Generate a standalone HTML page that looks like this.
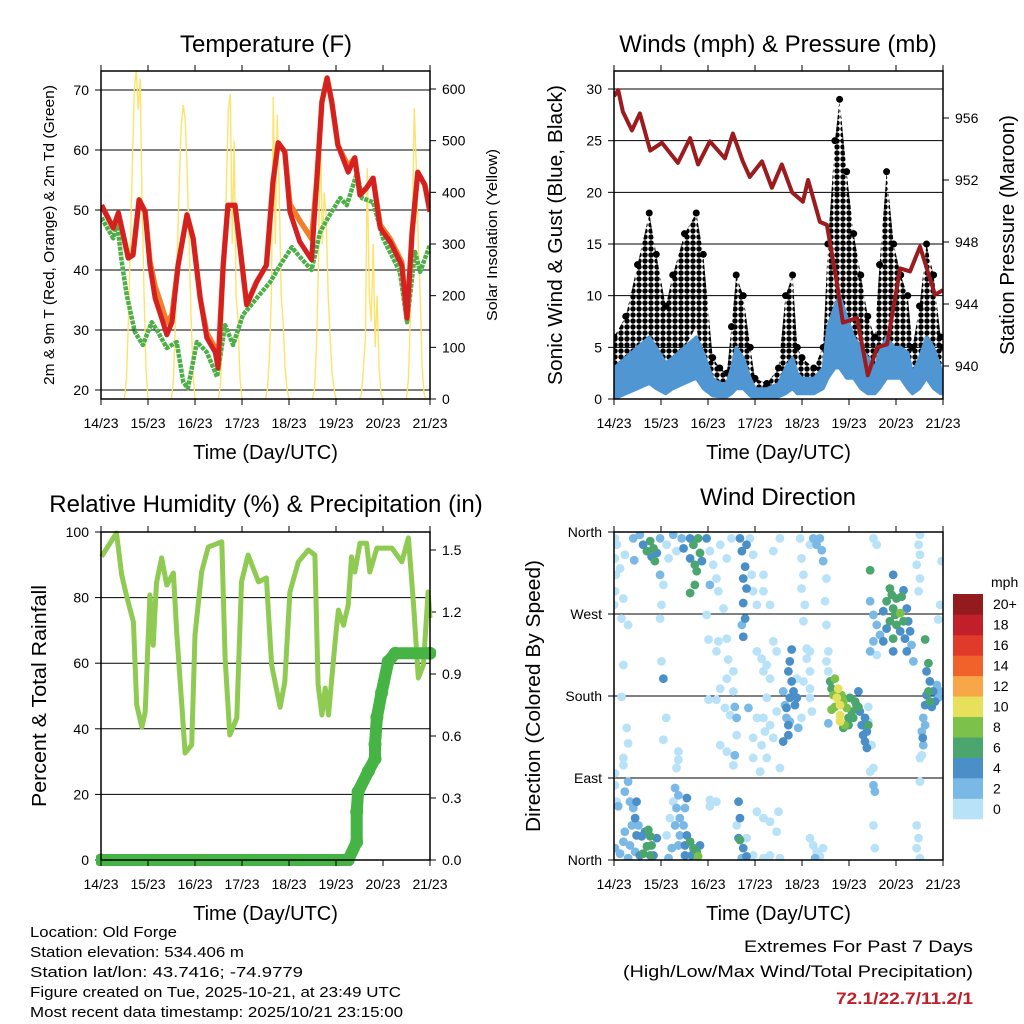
<!DOCTYPE html>
<html><head><meta charset="utf-8"><style>
html,body{margin:0;padding:0;background:#fff;}
svg{display:block;font-family:"Liberation Sans",Arial,sans-serif;}
</style></head><body>
<svg id="fig" width="1024" height="1024" viewBox="0 0 1024 1024" xmlns="http://www.w3.org/2000/svg">
<defs>
<clipPath id="c1"><rect x="101" y="71" width="329" height="328"/></clipPath>
<clipPath id="c2"><rect x="614" y="71" width="329" height="328"/></clipPath>
<clipPath id="c3"><rect x="96" y="526" width="340" height="340"/></clipPath>
<clipPath id="c4"><rect x="614" y="532" width="329" height="328"/></clipPath>
<pattern id="dots" width="6" height="6" patternUnits="userSpaceOnUse">
<circle cx="3" cy="3" r="2.7" fill="#000"/>
</pattern>
</defs>
<g id="layer"></g>
</svg>
<script>
// ---------- DATA ----------
const dayLabels = ["14/23","15/23","16/23","17/23","18/23","19/23","20/23","21/23"];
// Temperature panel
const tempT = [0.01,0.26,0.37,0.58,0.68,0.81,0.94,1.04,1.15,1.29,1.40,1.51,1.64,1.83,1.96,2.11,2.25,2.43,2.49,2.60,2.70,2.85,2.96,3.10,3.31,3.52,3.66,3.77,3.91,4.02,4.23,4.48,4.59,4.70,4.81,4.91,5.04,5.26,5.40,5.51,5.65,5.79,5.94,6.15,6.40,6.51,6.62,6.74,6.89,7.0];
const temp2m = [50.8,47,49.5,42,42.5,51.7,49.7,40.8,35.3,32,29.2,31.3,40.8,49.2,45.3,35.3,28.7,26.3,23.7,40.8,50.8,50.8,43.7,34.2,38,40.8,54.7,61.2,59.7,49.7,44.7,41.7,54.7,68,72,68,60.8,56.3,58.7,52.5,53.7,55.3,47,44.7,40.8,32,46.3,56.3,54.2,49.7];
const temp9m = [50.8,47,49.5,42,42.5,51.7,49.7,41.5,37.3,34,31.2,32.5,40.8,49.2,45.3,35.3,29.5,27,24.3,40.8,50.8,50.8,43.7,34.2,38,40.8,54.7,61.2,59.7,51,48.2,45.2,54.7,68,72,68,60.8,57.3,58.7,52.5,53.7,55.3,47.5,45.2,41.3,32,46.3,56.3,54.2,49.7];
const dewT = [0.01,0.26,0.34,0.45,0.55,0.72,0.89,1.08,1.21,1.40,1.61,1.75,1.85,2.04,2.25,2.47,2.64,2.81,3.02,3.31,3.60,3.81,4.06,4.23,4.48,4.66,4.83,5.09,5.23,5.45,5.55,5.79,6.00,6.36,6.51,6.68,6.79,7.0];
const dewV = [48.7,45.3,48,40.8,35.8,29.7,27.5,31.3,29.7,27,28,21.3,20.3,28,26.3,22.2,30.8,27.5,32.5,35.3,38,40.8,43.8,42.2,40,46.3,48.7,52,50.8,56.3,52,51.3,45.3,39.7,31.3,43,39.7,44.2];
// hourly solar insolation after sunrise (~11 UTC) for each day
const solarDays = [
 [0,40,150,300,450,600,640,560,620,380,200,60,0],
 [0,40,150,290,420,530,569,540,440,300,160,50,0],
 [0,30,120,250,400,560,590,300,500,200,150,40,0],
 [0,20,80,200,585,300,550,400,200,150,60,20,0],
 [0,20,100,250,530,300,400,350,200,120,50,20,0],
 [0,10,60,120,447,200,150,300,100,200,60,10,0],
 [0,40,160,350,563,450,300,200,60,10,0,0,0]
];
// Wind panel
const windT = [0,0.25,0.5,0.75,0.9,1.1,1.25,1.5,1.75,1.9,2.1,2.25,2.4,2.5,2.6,2.75,2.9,3.0,3.25,3.5,3.65,3.8,3.9,4.0,4.25,4.45,4.55,4.7,4.8,4.95,5.1,5.25,5.4,5.55,5.65,5.8,5.95,6.1,6.25,6.35,6.5,6.65,6.8,6.95,7.0];
const gustHi = [6,8,13,18,14,9,12,16,18,14,4,3,2.5,7,12,10,5,2,1.5,3,10,12,5,4,3,5,15,25,29,22,16,12,8,6,13,22,15,12,10,5,9,15,12,6,5];
const gustLo = [1,2,4,6,3,2,3,5,7,3,1,1,1,2,3,3,1,0.5,0.5,1,2,3,1,1,1,2,5,7,10,8,5,3,2,2,4,6,4,3,2,1,3,4,2,1,1];
const windHi = [3,4,5,6,5,3.5,4,5,6,4.5,2,1.5,1.5,3,5,4,2,1,1,1.5,3,4,2.5,2,2,3,7,9,10,8,6,5,4,3,4.5,6,5,5,4.5,2.5,4,6,5,3,2.5];
const windLo = [0,0.5,1,1.5,1,0.5,1,1.5,2,1,0.3,0.2,0.2,0.5,1,1,0.3,0,0,0.2,0.5,1,0.5,0.5,0.5,1,2,3,3,2,2,1,0.5,0.5,1,2,2,2,1,0.5,1,2,1,0.5,0.5];
const presT = [0,0.09,0.19,0.38,0.55,0.77,1.02,1.36,1.62,1.79,2.04,2.36,2.53,2.74,2.89,3.15,3.36,3.57,3.79,4.02,4.13,4.38,4.53,4.74,4.87,5.17,5.40,5.60,5.81,6.09,6.30,6.51,6.83,7.0];
const presV = [957.4,957.8,956.4,955.2,956.3,953.9,954.4,953.1,954.7,953,954.5,953.4,955,953.2,952.2,953.2,951.5,953,951.2,950.6,952,949.3,949.1,945.4,942.8,943.1,939.4,941.2,941.4,946.3,946.1,947.7,944.6,944.9];
// RH / precip panel
const rhT = [0.01,0.33,0.44,0.55,0.69,0.76,0.87,0.94,1.04,1.11,1.18,1.29,1.40,1.54,1.61,1.72,1.79,1.93,2.0,2.14,2.28,2.57,2.64,2.74,2.89,2.99,3.13,3.35,3.52,3.63,3.81,3.91,4.02,4.20,4.41,4.55,4.62,4.70,4.77,4.84,4.98,5.05,5.16,5.26,5.33,5.40,5.51,5.65,5.72,5.87,6.19,6.40,6.54,6.65,6.75,6.86,6.96,7.0];
const rhV = [92.5,99.7,86.9,80.2,72.6,47.3,40.5,45.1,80.8,65.5,84.5,92.1,83.8,87.5,69.5,47.3,32.6,35.1,68.6,87.8,95.4,97,61.6,38.1,43.3,84.8,93,84.8,86,59.5,46.6,54.3,81.7,90.9,94.5,93,53.4,44.2,52.4,44.2,66.5,76.2,71.6,77.7,92.4,87.8,96.6,96.6,87.8,95.1,95.1,90.9,98.2,77.7,55.5,59.5,81.7,73.8];
const rainT = [0,5.26,5.44,5.44,5.47,5.69,5.83,5.83,5.87,5.97,6.11,6.26,7.0];
const rainV = [0,0,0.087,0.233,0.33,0.43,0.49,0.56,0.69,0.81,0.96,1.0,1.0];
// Wind direction panel (day offset, degrees, mph)
const dirDay = [0.02,0.06,0.02,0.04,0.02,0.00,0.20,0.16,0.30,0.13,0.23,0.41,0.43,0.55,0.62,0.70,0.77,0.84,0.87,0.91,0.80,0.98,0.98,1.05,1.01,0.98,1.12,1.16,1.26,1.33,1.44,1.48,1.62,1.69,1.79,1.83,1.72,1.87,1.76,1.62,1.72,1.62,1.97,2.04,2.11,2.18,2.22,2.04,2.26,2.40,2.33,1.97,2.50,2.68,2.72,2.82,2.79,2.75,2.82,2.75,2.79,2.72,2.75,2.89,2.96,2.93,2.96,3.04,3.18,3.32,3.39,3.53,3.18,3.96,3.99,4.03,3.99,4.06,4.03,4.24,4.31,4.38,4.42,4.45,4.17,4.52,4.49,4.52,5.52,5.59,5.45,6.51,6.48,6.51,6.44,6.51,6.48,6.97,6.94,6.90,
5.45,5.52,5.59,5.66,5.52,5.45,5.59,5.73,5.80,5.87,5.94,6.01,6.09,6.12,6.16,5.94,6.23,6.26,6.30,6.19,6.23,6.33,6.37,5.80,5.87,5.94,6.01,5.73,5.94,6.09,6.16,5.91,5.98,
6.62,6.69,6.65,6.72,6.79,6.87,6.90,6.65,6.72,6.62,6.76,6.69,6.83,6.94,6.58,6.55,6.58,6.51,6.62,6.57,6.55,6.51,6.44,6.48,6.44,
2.01,2.22,2.40,2.18,2.43,2.40,2.54,2.54,2.26,2.18,2.36,2.47,2.57,2.61,2.61,2.57,2.54,2.40,2.26,2.86,3.04,3.14,3.25,3.18,3.32,3.39,3.46,3.25,3.18,3.21,3.14,3.25,3.11,3.32,3.46,3.39,3.53,3.04,2.96,2.96,
3.78,3.74,3.71,3.78,3.82,3.74,3.67,3.85,3.89,3.60,3.64,3.67,3.71,3.71,3.60,3.92,3.99,3.89,4.03,4.17,4.17,4.10,4.17,4.10,4.17,4.21,3.74,
4.60,4.63,4.70,4.77,4.67,4.74,4.81,4.70,4.81,4.84,4.88,4.95,4.99,5.06,5.13,5.20,5.20,5.02,4.91,4.81,4.63,4.88,4.99,5.09,5.23,5.27,5.34,5.38,5.34,5.38,5.30,5.41,4.56,5.16,5.48,5.52,5.45,5.41,5.52,5.55,5.52,5.55,5.41,4.56,4.52,4.56,
0.20,0.16,0.27,0.30,0.20,0.20,0.02,1.05,1.01,1.11,1.05,1.37,1.37,1.33,2.01,2.18,2.04,2.04,
0.02,0.06,0.09,0.23,0.30,0.34,0.41,0.45,0.48,0.52,0.38,0.48,0.59,0.66,0.73,0.77,0.70,0.80,0.62,0.77,0.55,0.45,0.34,0.20,0.13,0.02,0.23,0.84,0.91,0.30,
1.30,1.37,1.33,1.40,1.48,1.30,1.55,1.51,1.62,1.69,1.76,1.79,1.65,1.51,1.37,1.23,1.12,1.19,1.40,1.16,1.83,1.55,1.51,1.26,
2.65,2.68,2.65,2.68,2.75,2.82,2.72,2.61,2.82,3.04,3.18,3.32,3.50,3.46,3.18,3.32,3.53,2.96,4.17,4.24,4.31,4.45,4.28,4.38,6.51];
const dirDeg = [353,346,331,313,295,280,287,265,258,320,335,353,329,357,346,339,350,342,328,337,333,353,313,302,280,265,346,331,357,339,353,342,353,346,353,337,324,328,317,331,302,293,353,339,324,309,295,302,346,331,276,269,353,353,339,346,322,309,298,282,265,258,245,353,335,313,295,280,313,280,339,353,295,353,331,313,298,280,262,353,346,353,340,328,346,309,284,258,353,346,318,357,346,335,324,309,295,328,280,264,
284,269,258,247,240,229,225,273,284,298,276,287,271,289,296,313,276,262,251,243,229,236,218,254,262,243,258,240,229,251,262,291,269,
242,216,207,196,185,192,178,181,174,170,168,185,174,185,156,141,126,112,148,134,115,86,38,24,13,
242,240,243,229,220,199,207,185,188,176,167,159,168,156,137,115,104,119,126,167,229,221,214,207,199,240,229,178,156,141,126,112,97,148,163,134,101,156,134,112,
231,218,207,196,185,178,167,170,178,185,170,156,148,137,130,145,156,199,196,207,188,221,229,232,178,163,152,
196,188,199,188,181,178,170,168,159,181,174,167,156,163,174,185,168,178,148,152,165,145,148,156,163,148,156,141,130,123,137,148,150,170,126,101,97,152,82,75,38,13,168,207,218,229,
214,179,145,128,112,104,95,199,218,156,132,119,110,101,176,64,66,59,
82,64,59,75,86,64,57,46,64,38,38,27,26,31,33,26,15,16,7,5,5,9,16,20,7,13,31,5,24,2,
79,71,57,46,38,38,27,16,20,13,9,4,5,5,16,13,27,46,27,2,16,68,57,64,
64,46,24,22,13,4,2,38,24,53,46,42,53,31,2,5,2,5,24,16,9,13,2,4,2];
const dirMph = [1,0,1,0,0,1,0,0,0,0,1,2,3,3,4,6,7,6,6,4,4,2,2,1,1,1,1,1,2,1,3,4,5,6,7,6,6,5,6,4,6,6,4,1,0,0,0,2,0,0,0,0,0,4,4,4,4,4,4,4,4,2,4,0,0,0,0,0,0,0,0,0,0,0,0,0,0,0,0,2,2,2,2,2,0,0,0,0,0,0,6,0,0,0,0,0,0,0,0,0,
2,2,2,2,2,2,1,4,6,6,6,6,8,6,4,4,4,4,4,4,4,2,2,4,6,6,6,4,4,4,6,6,6,
6,6,4,4,4,2,2,4,6,4,4,6,4,2,2,2,2,0,2,4,0,0,0,0,0,
0,0,0,0,0,0,0,0,0,0,0,0,2,2,0,2,0,0,0,2,0,0,0,0,0,0,0,0,0,0,0,0,0,0,0,0,0,0,0,0,
4,4,4,4,4,4,4,4,4,2,2,2,4,4,4,2,0,0,0,0,0,0,0,0,0,0,2,
6,6,8,10,8,10,10,8,10,8,8,8,6,6,6,4,6,6,8,10,8,6,6,6,4,4,4,4,4,4,4,6,2,6,0,0,0,0,2,2,0,0,0,0,0,0,
0,0,0,0,0,0,0,4,0,0,0,0,0,0,0,0,0,0,
1,0,2,2,2,2,2,4,4,2,2,4,4,4,6,6,6,6,6,6,4,2,2,2,2,2,2,4,4,2,
2,2,2,2,2,2,4,4,6,6,6,8,4,4,2,2,0,0,2,2,4,4,2,0,
4,4,4,6,4,4,2,0,0,0,0,0,0,0,0,0,0,0,0,0,0,0,2,0,0];
const speedColors = ["#b8e2f8","#7ab9e6","#4a8fc8","#4aa66e","#7cc24a","#e6e05a","#f7a748","#f0622a","#e03a2b","#c1202a","#941a1d"];
const speedLabels = ["0","2","4","6","8","10","12","14","16","18","20+"];
const tempTicks = [20,30,40,50,60,70];
const solarTicks = [0,100,200,300,400,500,600];
const windTicks = [0,5,10,15,20,25,30];
const presTicks = [940,944,948,952,956];
const rhTicks = [0,20,40,60,80,100];
const rainTicks = [0,0.3,0.6,0.9,1.2,1.5];
const dirTicks = [0,90,180,270,360];
const dirNames = ["North","East","South","West","North"];

// ---------- HELPERS ----------
const NS = "http://www.w3.org/2000/svg";
const root = document.getElementById("layer");
function el(tag, attrs, parent) {
  const e = document.createElementNS(NS, tag);
  for (const k in attrs) e.setAttribute(k, attrs[k]);
  (parent || root).appendChild(e);
  return e;
}
function txt(s, x, y, size, anchor, parent, extra) {
  const t = el("text", Object.assign({x: x, y: y, "font-size": size, "text-anchor": anchor || "middle", fill: "#000"}, extra || {}), parent);
  t.textContent = s;
  return t;
}
const PW = 329, PH = 328, DAYW = PW / 7;
function xs(x0) { return d => x0 + d * DAYW; }
function lin(v0, y0, v1, y1) { return v => y0 + (v - v0) * (y1 - y0) / (v1 - v0); }
function pts(ts, vs, fx, fy) { return ts.map((t, i) => fx(t).toFixed(1) + "," + fy(vs[i]).toFixed(1)).join(" "); }

function frame(x0, y0, name) {
  const g = el("g", {});
  
  
  el("rect", {x: x0, y: y0, width: PW, height: PH, fill: "none", stroke: "#000", "stroke-width": 1.5}, g);
  const fx = xs(x0);
  for (let i = 0; i < dayLabels.length; i++) {
    const x = fx(i);
    el("line", {x1: x, x2: x, y1: y0 + PH, y2: y0 + PH + 6, stroke: "#000", "stroke-width": 1}, g);
    el("line", {x1: x, x2: x, y1: y0, y2: y0 - 6, stroke: "#000", "stroke-width": 1}, g);
    const t = txt(dayLabels[i], x, y0 + PH + 29, 14, "middle", g);
    
    
  }
  const xt = txt("Time (Day/UTC)", x0 + PW / 2, y0 + PH + 60, 20, "middle", g);
  
  
  return g;
}
function yaxis(ticks, fy, x0, side, fmt, grid, name, gx) {
  const g = el("g", {});
  
  
  ticks.forEach(v => {
    const y = fy(v);
    if (grid) el("line", {x1: gx, x2: gx + PW, y1: y, y2: y, stroke: "#000", "stroke-width": 1}, g);
    const dx = side === "left" ? -6 : 6;
    el("line", {x1: x0, x2: x0 + dx, y1: y, y2: y, stroke: "#000", "stroke-width": 1}, g);
    const t = txt(fmt(v), x0 + (side === "left" ? -12 : 12), y + 5, 14, side === "left" ? "end" : "start", g);
    
    
  });
  return g;
}
function vtitle(s, x, y, size, name, len) {
  const extra = {transform: "rotate(-90 " + x + " " + y + ")"};
  if (len) { extra.textLength = len; extra.lengthAdjust = "spacingAndGlyphs"; }
  const t = txt(s, x, y, size, "middle", null, extra);
  
  
}
function title(s, x, y, name) {
  const t = txt(s, x, y, 24, "middle");
  
  
}

// ---------- PANEL 1: TEMPERATURE ----------
(function () {
  const x0 = 101, y0 = 71, fx = xs(x0);
  const fy = lin(20, 390, 70, 90);
  const fs = lin(0, 399, 600, 89);
  yaxis(tempTicks, fy, x0, "left", v => String(v), true, "temp-y-axis", x0);
  yaxis(solarTicks, fs, x0 + PW, "right", v => String(v), false, "solar-y-axis", x0);
  const g = el("g", {"clip-path": "url(#c1)"});
  
  
  solarDays.forEach((arr, di) => {
    const ts = arr.map((_, h) => di + 0.5 + h / 24);
    const p = el("polyline", {points: pts(ts, arr, fx, fs), fill: "none", stroke: "#fde36a", "stroke-width": 1.4}, g);
    
    
  });
  const d = el("polyline", {points: pts(dewT, dewV, fx, fy), fill: "none", stroke: "#4caf48", "stroke-width": 4.5, "stroke-linejoin": "round", "stroke-dasharray": "4 1"}, g);
  
  
  const o = el("polyline", {points: pts(tempT, temp9m, fx, fy), fill: "none", stroke: "#f07f2a", "stroke-width": 5.5, "stroke-linejoin": "round"}, g);
  
  
  const r = el("polyline", {points: pts(tempT, temp2m, fx, fy), fill: "none", stroke: "#d42020", "stroke-width": 5, "stroke-linejoin": "round"}, g);
  
  
  frame(x0, y0, "temperature-frame");
  title("Temperature (F)", 266, 52, "temperature-title");
  vtitle("2m & 9m T (Red, Orange) & 2m Td (Green)", 54, 235, 15, "temp-y-title", 300);
  vtitle("Solar Insolation (Yellow)", 497, 235, 15, "solar-y-title", 172);
})();

// ---------- PANEL 2: WINDS ----------
(function () {
  const x0 = 614, y0 = 71, fx = xs(x0);
  const fy = lin(0, 399, 30, 89);
  const fp = lin(956, 118, 940, 366);
  yaxis(windTicks, fy, x0, "left", v => String(v), true, "wind-y-axis", x0);
  yaxis(presTicks, fp, x0 + PW, "right", v => String(v), false, "pressure-y-axis", x0);
  const g = el("g", {"clip-path": "url(#c2)"});
  
  
  const top = windT.map((t, i) => fx(t).toFixed(1) + "," + fy(gustHi[i]).toFixed(1));
  const bot = windT.map((t, i) => fx(t).toFixed(1) + "," + fy(gustLo[i]).toFixed(1)).reverse();
  const gp = el("polygon", {points: top.concat(bot).join(" "), fill: "url(#dots)", stroke: "none"}, g);
  
  
  windT.forEach((t, i) => {
    const c = el("circle", {cx: fx(t), cy: fy(gustHi[i]), r: 3.5, fill: "#000"}, g);
    
    
  });
  const wt = windT.map((t, i) => fx(t).toFixed(1) + "," + fy(windHi[i]).toFixed(1));
  const wb = windT.map((t, i) => fx(t).toFixed(1) + "," + fy(windLo[i]).toFixed(1)).reverse();
  const wp = el("polygon", {points: wt.concat(wb).join(" "), fill: "#4f96d2", stroke: "#4f96d2", "stroke-width": 3, "stroke-linejoin": "round"}, g);
  
  
  const pl = el("polyline", {points: pts(presT, presV, fx, fp), fill: "none", stroke: "#9b1b1e", "stroke-width": 4, "stroke-linejoin": "round"}, g);
  
  
  frame(x0, y0, "winds-frame");
  title("Winds (mph) & Pressure (mb)", 778, 52, "winds-title");
  vtitle("Sonic Wind & Gust (Blue, Black)", 562, 235, 20, "wind-y-title", 300);
  vtitle("Station Pressure (Maroon)", 1014, 235, 20, "pressure-y-title", 240);
})();

// ---------- PANEL 3: RH & PRECIP ----------
(function () {
  const x0 = 101, y0 = 532, fx = xs(x0);
  const fy = lin(0, 860, 100, 532);
  const fq = lin(0, 860, 1.5, 550);
  yaxis(rhTicks, fy, x0, "left", v => String(v), true, "rh-y-axis", x0);
  yaxis(rainTicks, fq, x0 + PW, "right", v => v.toFixed(1), false, "rain-y-axis", x0);
  const g = el("g", {"clip-path": "url(#c3)"});
  
  
  const rl = el("polyline", {points: pts(rhT, rhV, fx, fy), fill: "none", stroke: "#8fca52", "stroke-width": 5, "stroke-linejoin": "round"}, g);
  
  
  const ql = el("polyline", {points: pts(rainT, rainV, fx, fq), fill: "none", stroke: "#46b444", "stroke-width": 12, "stroke-linejoin": "round", "stroke-linecap": "round"}, g);
  
  
  rainT.forEach((t, i) => {
    const c = el("circle", {cx: fx(t), cy: fq(rainV[i]), r: 6.5, fill: "#46b444"}, g);
    
    
  });
  frame(x0, y0, "rh-frame");
  title("Relative Humidity (%) & Precipitation (in)", 266, 512, "rh-title");
  vtitle("Percent & Total Rainfall", 46, 696, 20, "rh-y-title", 222);
})();

// ---------- PANEL 4: WIND DIRECTION ----------
(function () {
  const x0 = 614, y0 = 532, fx = xs(x0);
  const fy = lin(0, 860, 360, 532);
  yaxis(dirTicks, fy, x0, "left", v => dirNames[dirTicks.indexOf(v)], true, "direction-y-axis", x0);
  const g = el("g", {"clip-path": "url(#c4)"});
  
  
  const order = dirDay.map((_, i) => i).sort((a, b) => dirMph[a] - dirMph[b]);
  order.forEach(i => {
    const ci = Math.min(10, Math.floor(dirMph[i] / 2));
    const c = el("circle", {cx: fx(dirDay[i]), cy: fy(dirDeg[i]), r: 4.4, fill: speedColors[ci]}, g);
    
    
  });
  frame(x0, y0, "direction-frame");
  title("Wind Direction", 778, 505, "direction-title");
  vtitle("Direction (Colored By Speed)", 540, 696, 20, "direction-y-title", 272);
  // colorbar
  const cb = el("g", {});
  
  
  const bh = 225 / speedColors.length;
  speedColors.forEach((col, i) => {
    const y = 819 - (i + 1) * bh;
    el("rect", {x: 953, y: y, width: 30, height: bh + 0.3, fill: col}, cb);
    const t = txt(speedLabels[i], 993, y + bh / 2 + 5, 14, "start", cb);
    
    
  });
  const m = txt("mph", 991, 587, 14, "start", cb);
  
  
})();

// ---------- FOOTER TEXT ----------
const infoLines = ["Location: Old Forge","Station elevation: 534.406 m","Station lat/lon: 43.7416; -74.9779","Figure created on Tue, 2025-10-21, at 23:49 UTC","Most recent data timestamp: 2025/10/21 23:15:00"];
const infoLens = [147,214,273,371,373];
infoLines.forEach((s, i) => {
  const t = txt(s, 30, 937 + i * 20, 15, "start", null, {textLength: infoLens[i], lengthAdjust: "spacingAndGlyphs"});
  
  
});
const e1 = txt("Extremes For Past 7 Days", 973, 952, 17, "end", null, {textLength: 229, lengthAdjust: "spacingAndGlyphs"});


const e2 = txt("(High/Low/Max Wind/Total Precipitation)", 973, 977, 17, "end", null, {textLength: 350, lengthAdjust: "spacingAndGlyphs"});


const e3 = txt("72.1/22.7/11.2/1", 973, 1004, 17, "end", null, {fill: "#c1202a", "font-weight": "bold", textLength: 137, lengthAdjust: "spacingAndGlyphs"});


</script>
</body></html>
